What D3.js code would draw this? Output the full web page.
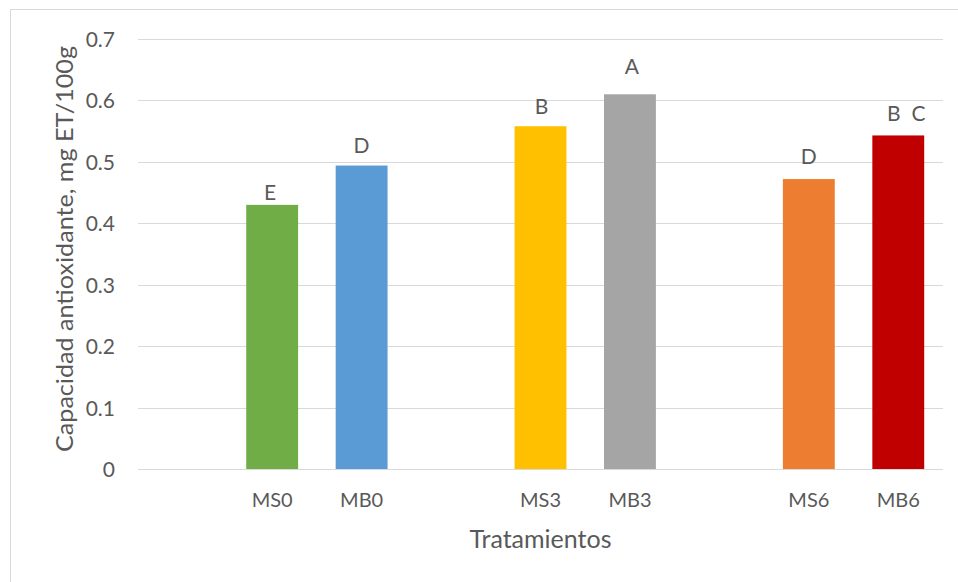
<!DOCTYPE html>
<html>
<head>
<meta charset="utf-8">
<script src="https://cdn.jsdelivr.net/npm/d3@7"></script>
<style>
  html, body { margin: 0; padding: 0; background: #fff; }
  svg { display: block; font-family: "Lato", "Open Sans", sans-serif; }
</style>
</head>
<body>
<svg id="chart" width="958" height="582"></svg>
<script>
// Treatments, grouped in pairs by storage time
const categories = ["MS0", "MB0", "MS3", "MB3", "MS6", "MB6"];
const groups = [["MS0", "MB0"], ["MS3", "MB3"], ["MS6", "MB6"]];
const values = [0.430, 0.494, 0.558, 0.610, 0.472, 0.543];
const letters = ["E", "D", "B", "A", "D", "B  C"];
const colors = ["#70AD47", "#5B9BD5", "#FFC000", "#A5A5A5", "#ED7D31", "#C00000"];
const yTicks = [0, 0.1, 0.2, 0.3, 0.4, 0.5, 0.6, 0.7];

const svg = d3.select("#chart");
const W = 958, H = 582;
const plot = { left: 138, right: 943, top: 39, bottom: 469 };
const textColor = "#595959";
const gridColor = "#D9D9D9";
const font = "Lato, 'Open Sans', sans-serif";

// gap in px between each bar top and its letter baseline (letters were placed by hand)
const letterGap = [5, 13, 12, 20, 15, 14];
// horizontal nudge of each letter from its bar centre
const letterShift = [-2, 0, 1, 2, 0, 8];

// chart area border
svg.append("rect")
  .attr("x", 10.5).attr("y", 9.5)
  .attr("width", W + 20).attr("height", H + 20)
  .attr("fill", "#fff").attr("stroke", gridColor).attr("stroke-width", 1);

// each pair is preceded by an empty slot
const slots = [];
groups.forEach((g, i) => { slots.push("gap" + i); g.forEach(c => slots.push(c)); });

const x = d3.scaleBand().domain(slots).range([plot.left, plot.right]).paddingInner(0.42).paddingOuter(0.21);
const y = d3.scaleLinear().domain([0, 0.7]).range([plot.bottom, plot.top]);

// horizontal gridlines
svg.append("g").selectAll("line").data(yTicks).join("line")
  .attr("x1", plot.left).attr("x2", plot.right)
  .attr("y1", d => Math.round(y(d)) + 0.5).attr("y2", d => Math.round(y(d)) + 0.5)
  .attr("stroke", gridColor).attr("stroke-width", 1);

// y axis labels
const yAxis = svg.append("g")
  .attr("transform", `translate(${plot.left},0)`)
  .call(d3.axisLeft(y).tickValues(yTicks).tickSize(0).tickPadding(23)
    .tickFormat(d => d === 0 ? "0" : d3.format(".1f")(d)));
yAxis.select(".domain").remove();
yAxis.selectAll("text")
  .attr("fill", textColor).attr("font-size", 21).style("font-family", font)
  .attr("dy", "0.36em");

// bars
const data = categories.map((c, i) => ({ c, i, v: values[i], label: letters[i], color: colors[i] }));
svg.append("g").selectAll("rect").data(data).join("rect")
  .attr("x", d => x(d.c))
  .attr("width", x.bandwidth())
  .attr("y", d => y(d.v))
  .attr("height", d => y(0) - y(d.v))
  .attr("fill", d => d.color);

// significance letters
svg.append("g").selectAll("text").data(data).join("text")
  .attr("x", d => x(d.c) + x.bandwidth() / 2 + letterShift[d.i])
  .attr("y", d => y(d.v) - letterGap[d.i])
  .attr("text-anchor", "middle")
  .attr("fill", textColor)
  .attr("font-size", 21)
  .attr("xml:space", "preserve")
  .style("white-space", "pre")
  .text(d => d.label);

// x axis labels
const xAxis = svg.append("g")
  .attr("transform", `translate(0,${plot.bottom})`)
  .call(d3.axisBottom(x).tickValues(categories).tickSize(0));
xAxis.select(".domain").remove();
xAxis.selectAll("text")
  .attr("fill", textColor).attr("font-size", 20).style("font-family", font)
  .attr("y", 38).attr("dy", 0);

// axis titles
svg.append("text")
  .attr("x", (plot.left + plot.right) / 2).attr("y", 548)
  .attr("text-anchor", "middle").attr("fill", textColor).attr("font-size", 25)
  .text("Tratamientos");

svg.append("text")
  .attr("transform", "translate(73,249) rotate(-90)")
  .attr("text-anchor", "middle").attr("fill", textColor).attr("font-size", 24)
  .attr("textLength", 406).attr("lengthAdjust", "spacingAndGlyphs")
  .text("Capacidad antioxidante, mg ET/100g");
</script>
</body>
</html>
